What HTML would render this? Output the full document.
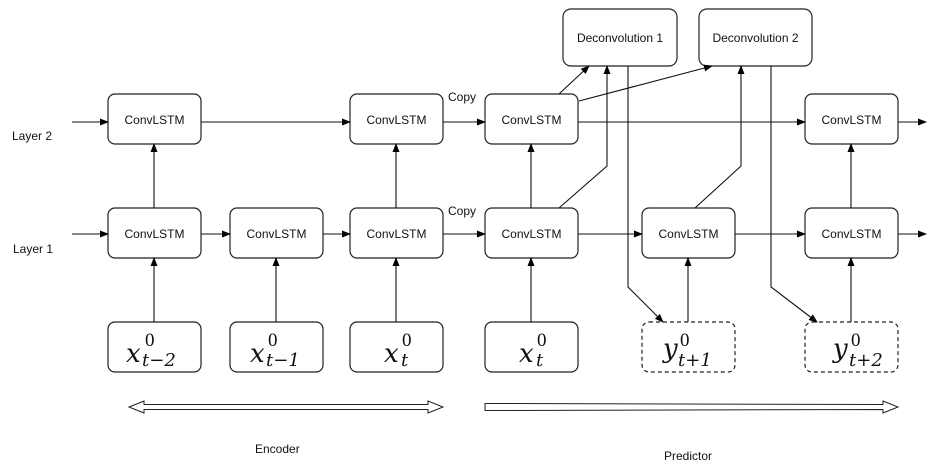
<!DOCTYPE html>
<html><head><style>
body{margin:0;background:#fff;}
svg{display:block;}
text{font-family:"Liberation Sans",sans-serif;fill:#111;}
.m text{font-family:"DejaVu Serif","Liberation Serif",serif;font-style:italic;}
.m text.n{font-style:normal;font-family:"Liberation Serif",serif;}
</style></head><body>
<svg width="952" height="474" viewBox="0 0 952 474" xmlns="http://www.w3.org/2000/svg">
<defs>
<marker id="a" markerWidth="9" markerHeight="7" refX="8" refY="3.5" orient="auto" markerUnits="userSpaceOnUse">
<path d="M0,0 L9,3.5 L0,7 z" fill="#000"/></marker>
</defs>
<g fill="none" stroke="#222" stroke-width="1.2">
<rect x="108" y="94" width="93" height="50" rx="7"/>
<rect x="350" y="94" width="93" height="50" rx="7"/>
<rect x="485" y="94" width="93" height="50" rx="7"/>
<rect x="805" y="94" width="93" height="50" rx="7"/>
<rect x="108" y="208" width="93" height="50" rx="7"/>
<rect x="230" y="208" width="93" height="50" rx="7"/>
<rect x="350" y="208" width="93" height="50" rx="7"/>
<rect x="485" y="208" width="93" height="50" rx="7"/>
<rect x="642" y="208" width="93" height="50" rx="7"/>
<rect x="805" y="208" width="93" height="50" rx="7"/>
<rect x="108" y="322" width="93" height="50" rx="7"/>
<rect x="230" y="322" width="93" height="50" rx="7"/>
<rect x="350" y="322" width="93" height="50" rx="7"/>
<rect x="485" y="322" width="93" height="50" rx="7"/>
<rect x="642" y="322" width="93" height="50" rx="7" stroke-dasharray="4,3"/>
<rect x="805" y="322" width="93" height="50" rx="7" stroke-dasharray="4,3"/>
<rect x="563" y="9" width="114" height="57" rx="8"/>
<rect x="699" y="9" width="113" height="57" rx="8"/>
</g>
<g fill="none" stroke="#111" stroke-width="1.1" marker-end="url(#a)">
<line x1="72" y1="122" x2="108" y2="122"/>
<line x1="201" y1="122" x2="350" y2="122"/>
<line x1="443" y1="122" x2="485" y2="122"/>
<line x1="578" y1="122" x2="805" y2="122"/>
<line x1="898" y1="122" x2="926" y2="122"/>
<line x1="72" y1="234" x2="108" y2="234"/>
<line x1="201" y1="234" x2="230" y2="234"/>
<line x1="323" y1="234" x2="350" y2="234"/>
<line x1="443" y1="234" x2="485" y2="234"/>
<line x1="578" y1="234" x2="642" y2="234"/>
<line x1="735" y1="234" x2="805" y2="234"/>
<line x1="898" y1="234" x2="926" y2="234"/>
<line x1="154" y1="208" x2="154" y2="144"/>
<line x1="396" y1="208" x2="396" y2="144"/>
<line x1="531" y1="208" x2="531" y2="144"/>
<line x1="851" y1="208" x2="851" y2="144"/>
<line x1="154" y1="322" x2="154" y2="258"/>
<line x1="276" y1="322" x2="276" y2="258"/>
<line x1="396" y1="322" x2="396" y2="258"/>
<line x1="531" y1="322" x2="531" y2="258"/>
<line x1="688" y1="322" x2="688" y2="258"/>
<line x1="851" y1="322" x2="851" y2="258"/>
<line x1="559" y1="94" x2="589" y2="66"/>
<line x1="579" y1="101" x2="712" y2="66"/>
<polyline points="559,208 607,166 607,66"/>
<polyline points="695,208 741,166 741,66"/>
<polyline points="628,66 628,287 663,322"/>
<polyline points="771,66 771,287 817,322"/>
</g>
<g fill="#fff" stroke="#222" stroke-width="1">
<path d="M129,407 L144,401 L144,404.5 L428,404.5 L428,401 L443,407 L428,413 L428,409.5 L144,409.5 L144,413 Z"/>
<path d="M485,403.5 L883,404.5 L883,401 L898,407 L883,413 L883,409.5 L485,410.5 Z"/>
</g>
<g font-size="12" text-anchor="middle">
<text x="154.5" y="124">ConvLSTM</text>
<text x="396.5" y="124">ConvLSTM</text>
<text x="531.5" y="124">ConvLSTM</text>
<text x="851.5" y="124">ConvLSTM</text>
<text x="154.5" y="238">ConvLSTM</text>
<text x="276.5" y="238">ConvLSTM</text>
<text x="396.5" y="238">ConvLSTM</text>
<text x="531.5" y="238">ConvLSTM</text>
<text x="688.5" y="238">ConvLSTM</text>
<text x="851.5" y="238">ConvLSTM</text>
<text x="620" y="42">Deconvolution 1</text>
<text x="755.5" y="42">Deconvolution 2</text>
</g>
<g font-size="12">
<text x="12" y="140">Layer 2</text>
<text x="13" y="253">Layer 1</text>
<text x="448" y="101">Copy</text>
<text x="448" y="215">Copy</text>
<text x="255" y="453">Encoder</text>
<text x="664" y="460">Predictor</text>
</g>
<g class="m" font-size="26">
<text x="126" y="362">x</text><text class="n" x="145" y="346" font-size="19">0</text><text x="142" y="366" font-size="18">t−2</text>
<text x="250" y="362">x</text><text class="n" x="268" y="346" font-size="19">0</text><text x="266" y="366" font-size="18">t−1</text>
<text x="384" y="362">x</text><text class="n" x="402" y="346" font-size="19">0</text><text x="401" y="366" font-size="18">t</text>
<text x="519" y="362">x</text><text class="n" x="537" y="346" font-size="19">0</text><text x="536" y="366" font-size="18">t</text>
<text x="663" y="357">y</text><text class="n" x="680" y="346" font-size="19">0</text><text x="678" y="366" font-size="18">t+1</text>
<text x="833" y="357">y</text><text class="n" x="851" y="346" font-size="19">0</text><text x="849" y="366" font-size="18">t+2</text>
</g>
</svg>
</body></html>
